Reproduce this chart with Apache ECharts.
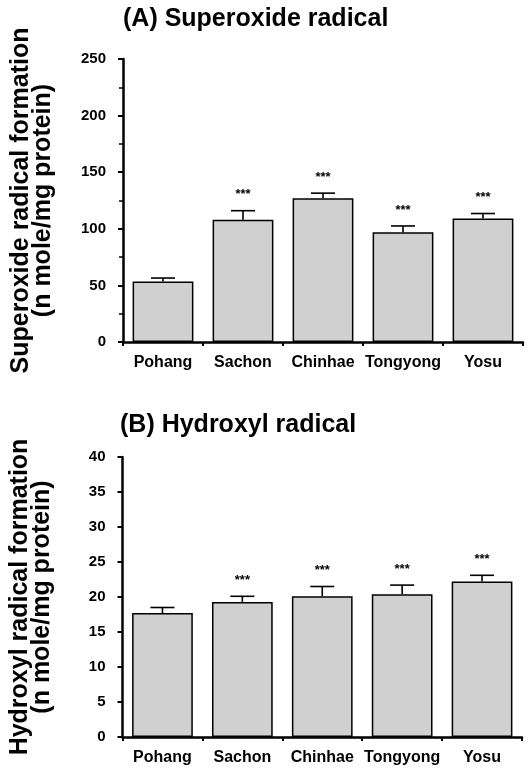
<!DOCTYPE html>
<html>
<head>
<meta charset="utf-8">
<script src="https://cdn.jsdelivr.net/npm/echarts@6/dist/echarts.min.js"></script>
<style>
html,body{margin:0;padding:0;background:#fff;}
#chart{width:528px;height:770px;}
</style>
</head>
<body>
<div id="chart"></div>
<script>
var categories = ['Pohang', 'Sachon', 'Chinhae', 'Tongyong', 'Yosu'];
var superoxideMean = [53.5, 108, 127, 97, 109];
var superoxideErr = [3, 8, 4.5, 5.5, 4.5];
var superoxideSig = ['', '***', '***', '***', '***'];
var hydroxylMean = [17.7, 19.3, 20.1, 20.4, 22.2];
var hydroxylErr = [0.8, 0.8, 1.4, 1.3, 0.9];
var hydroxylSig = ['', '***', '***', '***', '***'];
var titleA = '(A) Superoxide radical';
var titleB = '(B) Hydroxyl radical';
var yNameA = 'Superoxide radical formation\n(n mole/mg protein)';
var yNameB = 'Hydroxyl radical formation\n(n mole/mg protein)';

var FONT = 'Liberation Sans, Arial, sans-serif';
var chart = echarts.init(document.getElementById('chart'), null, {renderer: 'canvas'});

function errData(mean, err, sig) {
  return mean.map(function (m, i) { return [i, m, m + err[i], sig[i]]; });
}

function renderErr(params, api) {
  var idx = api.value(0);
  var base = api.coord([idx, api.value(1)]);
  var top = api.coord([idx, api.value(2)]);
  var half = 12;
  var children = [
    {type: 'line', shape: {x1: base[0], y1: base[1], x2: top[0], y2: top[1]}, style: {stroke: '#000', lineWidth: 1.6}},
    {type: 'line', shape: {x1: top[0] - half, y1: top[1], x2: top[0] + half, y2: top[1]}, style: {stroke: '#000', lineWidth: 1.6}}
  ];
  var s = api.value(3);
  if (s && s !== '-') {
    children.push({type: 'text', style: {text: String(s), x: top[0], y: top[1] - 16, align: 'center', verticalAlign: 'middle', font: 'bold 13px ' + FONT, fill: '#000'}});
  }
  return {type: 'group', children: children};
}

function xAxisCfg(gi) {
  return {
    type: 'category', gridIndex: gi, data: categories,
    axisLine: {lineStyle: {color: '#000', width: 2.5}},
    axisTick: {show: true, inside: false, length: 4, lineStyle: {color: '#000', width: 2}},
    axisLabel: {interval: 0, color: '#000', fontFamily: FONT, fontWeight: 'bold', fontSize: 16, margin: 13}
  };
}

function yAxisCfg(gi, max, interval, minor, name) {
  return {
    type: 'value', gridIndex: gi, min: 0, max: max, interval: interval,
    name: name, nameLocation: 'middle', nameRotate: 90, nameGap: 69,
    nameTextStyle: {color: '#000', fontFamily: FONT, fontWeight: 'bold', fontSize: 25, lineHeight: 22, align: 'center'},
    axisLine: {show: true, lineStyle: {color: '#000', width: 2.5}},
    axisTick: {show: true, inside: false, length: 5, lineStyle: {color: '#000', width: 2}},
    minorTick: {show: minor, splitNumber: 2, length: 4, lineStyle: {color: '#000', width: 1.5}},
    splitLine: {show: false},
    axisLabel: {color: '#000', fontFamily: FONT, fontWeight: 'bold', fontSize: 15, margin: 17}
  };
}

var barStyle = {color: '#d0d0d0', borderColor: '#000', borderWidth: 1.5};

chart.setOption({
  animation: false,
  backgroundColor: '#fff',
  title: [
    {text: titleA, left: 118, top: 2, textStyle: {color: '#000', fontFamily: FONT, fontWeight: 'bold', fontSize: 25}},
    {text: titleB, left: 115, top: 408, textStyle: {color: '#000', fontFamily: FONT, fontWeight: 'bold', fontSize: 25}}
  ],
  grid: [
    {left: 123, right: 5, top: 59, height: 283},
    {left: 120, right: 6, top: 457, height: 280}
  ],
  xAxis: [xAxisCfg(0), xAxisCfg(1)],
  yAxis: [
    yAxisCfg(0, 250, 50, true, yNameA),
    yAxisCfg(1, 40, 5, false, yNameB)
  ],
  series: [
    {type: 'bar', xAxisIndex: 0, yAxisIndex: 0, data: superoxideMean, barCategoryGap: '24%', itemStyle: barStyle, z: 2},
    {type: 'custom', xAxisIndex: 0, yAxisIndex: 0, data: errData(superoxideMean, superoxideErr, superoxideSig), renderItem: renderErr, z: 3,
      dimensions: ['x', 'mean', 'top', {name: 'sig', type: 'ordinal'}], encode: {x: 0, y: [1, 2]}},
    {type: 'bar', xAxisIndex: 1, yAxisIndex: 1, data: hydroxylMean, barCategoryGap: '24%', itemStyle: barStyle, z: 2},
    {type: 'custom', xAxisIndex: 1, yAxisIndex: 1, data: errData(hydroxylMean, hydroxylErr, hydroxylSig), renderItem: renderErr, z: 3,
      dimensions: ['x', 'mean', 'top', {name: 'sig', type: 'ordinal'}], encode: {x: 0, y: [1, 2]}}
  ]
});
</script>
</body>
</html>
